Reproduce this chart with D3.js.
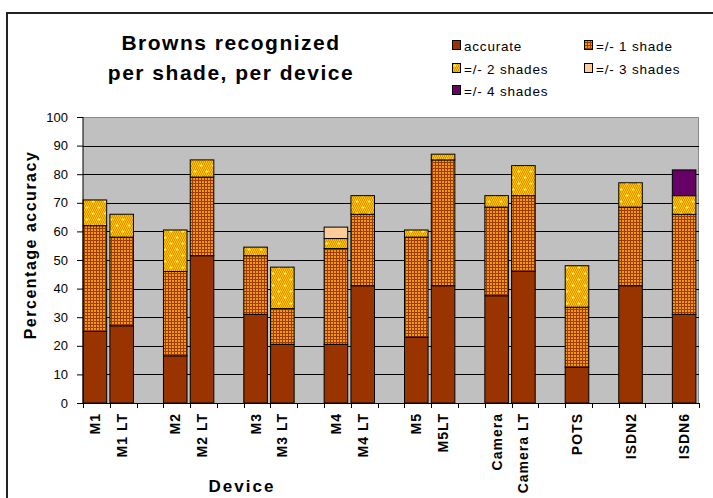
<!DOCTYPE html>
<html><head><meta charset="utf-8">
<script src="https://cdn.jsdelivr.net/npm/d3@7"></script>
<style>body{margin:0;background:#fff}svg{display:block;font-family:"Liberation Sans",Arial,sans-serif}</style>
</head><body><svg id="c" width="713" height="498"></svg>
<script>
const categories = ["M1","M1 LT","","M2","M2 LT","","M3","M3 LT","","M4","M4 LT","","M5","M5LT","","Camera","Camera LT","","POTS","","ISDN2","","ISDN6"];
const accurate = [25,27,0,16.5,51.5,0,31,20.5,0,20.5,41,0,23,41,0,37.5,46,0,12.5,0,41,0,31];
const shade1   = [37,31,0,29.5,27.5,0,20.5,12.5,0,33.5,25,0,35,44,0,31,26.5,0,21,0,27.5,0,35];
const shade2   = [9,8,0,14.5,6,0,3,14.5,0,3.5,6.5,0,2.5,2,0,4,10.5,0,14.5,0,8.5,0,6.5];
const shade3   = [0,0,0,0,0,0,0,0,0,4,0,0,0,0,0,0,0,0,0,0,0,0,0];
const shade4   = [0,0,0,0,0,0,0,0,0,0,0,0,0,0,0,0,0,0,0,0,0,0,9];
const seriesNames = ["accurate","=/- 1 shade","=/- 2 shades","=/- 3 shades","=/- 4 shades"];
const yTicks = [0,10,20,30,40,50,60,70,80,90,100];

const svg = d3.select("#c");
const defs = svg.append("defs");
const p1 = defs.append("pattern").attr("id","p1").attr("width",3).attr("height",3).attr("patternUnits","userSpaceOnUse");
p1.append("rect").attr("width",3).attr("height",3).attr("fill","#9c3a00");
p1.append("rect").attr("x",1).attr("y",1).attr("width",2).attr("height",2).attr("fill","#f29a0c");
const p2 = defs.append("pattern").attr("id","p2").attr("width",12).attr("height",12).attr("patternUnits","userSpaceOnUse");
p2.append("rect").attr("width",12).attr("height",12).attr("fill","#ffc400");
for(let i=0;i<12;i+=2)for(let j=0;j<12;j+=2){
  p2.append("rect").attr("x",i+((j/2)%2)).attr("y",j).attr("width",1).attr("height",1).attr("fill","#d99400");
  p2.append("rect").attr("x",i+1-((j/2)%2)).attr("y",j+1).attr("width",1).attr("height",1).attr("fill","#d99400");
}
p2.append("path").attr("d","M3,2v3M1.5,3.5h3M9,8v3M7.5,9.5h3").attr("stroke","#ffee66").attr("stroke-width",1);

const fills = ["#993300","url(#p1)","url(#p2)","#ffcc99","#660066"];

const L=83, R=699, T=117, B=403;
svg.append("rect").attr("x",7).attr("y",13).attr("width",730).attr("height",520).attr("fill","none").attr("stroke","#222").attr("stroke-width",2);

const x = d3.scaleBand().domain(d3.range(categories.length)).range([L,R]).paddingInner(0.12).paddingOuter(0.06);
const y = d3.scaleLinear().domain([0,100]).range([B,T]);

svg.append("rect").attr("x",L).attr("y",T).attr("width",R-L).attr("height",B-T).attr("fill","#c0c0c0");
svg.append("path").attr("d",`M${L},${T+0.5}H${R-0.5}V${B}`).attr("fill","none").attr("stroke","#888").attr("stroke-width",1);
svg.append("g").selectAll("line").data(yTicks.filter(d=>d>0&&d<100)).join("line")
  .attr("x1",L).attr("x2",R).attr("y1",d=>Math.round(y(d))+0.5).attr("y2",d=>Math.round(y(d))+0.5)
  .attr("stroke","#000").attr("stroke-width",1);

const table = categories.map((c,i)=>({i, v:[accurate[i],shade1[i],shade2[i],shade3[i],shade4[i]]}));
const stack = d3.stack().keys([0,1,2,3,4]).value((d,k)=>d.v[k])(table);
svg.append("g").selectAll("g").data(stack).join("g")
  .attr("fill",(d,k)=>fills[k])
  .selectAll("rect").data(d=>d.filter(s=>s[1]-s[0]>0)).join("rect")
  .attr("x",d=>x(d.data.i)-1.5).attr("width",x.bandwidth())
  .attr("y",d=>y(d[1])).attr("height",d=>y(d[0])-y(d[1]))
  .attr("stroke","#000").attr("stroke-width",1);

const ya = svg.append("g").attr("transform",`translate(${L},0)`)
  .call(d3.axisLeft(y).tickValues(yTicks).tickSize(6).tickPadding(9));
ya.select(".domain").attr("stroke","#000").attr("d",`M0,${T}V${B}`);
ya.selectAll("text").attr("font-size",13).attr("fill","#000").attr("font-family","Liberation Sans");
const step = x.step();
const xa = svg.append("g");
xa.append("line").attr("x1",L).attr("x2",R).attr("y1",B+0.5).attr("y2",B+0.5).attr("stroke","#000");
xa.selectAll("line.t").data(d3.range(categories.length+1)).join("line").attr("class","t")
  .attr("x1",i=>Math.round(L+i*step)+0.5).attr("x2",i=>Math.round(L+i*step)+0.5)
  .attr("y1",B).attr("y2",B+5).attr("stroke","#000");
xa.selectAll("text").data(categories.map((c,i)=>({c,i})).filter(d=>d.c)).join("text")
  .attr("transform",d=>`translate(${x(d.i)+x.bandwidth()/2-1.5+5},${B+10}) rotate(-90)`)
  .attr("text-anchor","end").attr("font-size",14).attr("letter-spacing",1).attr("font-weight","bold").text(d=>d.c);

const title = svg.append("text").attr("text-anchor","middle").attr("font-size",21).attr("letter-spacing",1.5).attr("font-weight","bold");
title.append("tspan").attr("x",231).attr("y",50).text("Browns recognized");
title.append("tspan").attr("x",231).attr("y",80).text("per shade, per device");
svg.append("text").attr("transform","translate(36,245) rotate(-90)").attr("text-anchor","middle")
  .attr("font-size",16).attr("letter-spacing",1.5).attr("font-weight","bold").text("Percentage accuracy");
svg.append("text").attr("x",242).attr("y",492).attr("text-anchor","middle").attr("font-size",17).attr("letter-spacing",2).attr("font-weight","bold").text("Device");

const legPos = [[452,51],[584,51],[452,74],[584,74],[452,96]];
const lg = svg.append("g").selectAll("g").data(seriesNames).join("g")
  .attr("transform",(d,i)=>`translate(${legPos[i][0]},${legPos[i][1]})`);
lg.append("rect").attr("x",0.5).attr("y",-10.5).attr("width",8).attr("height",9).attr("fill",(d,i)=>fills[i]).attr("stroke","#000");
lg.append("text").attr("x",12).attr("y",0).attr("font-size",13.5).attr("letter-spacing",0.8).text(d=>d);
</script></body></html>
